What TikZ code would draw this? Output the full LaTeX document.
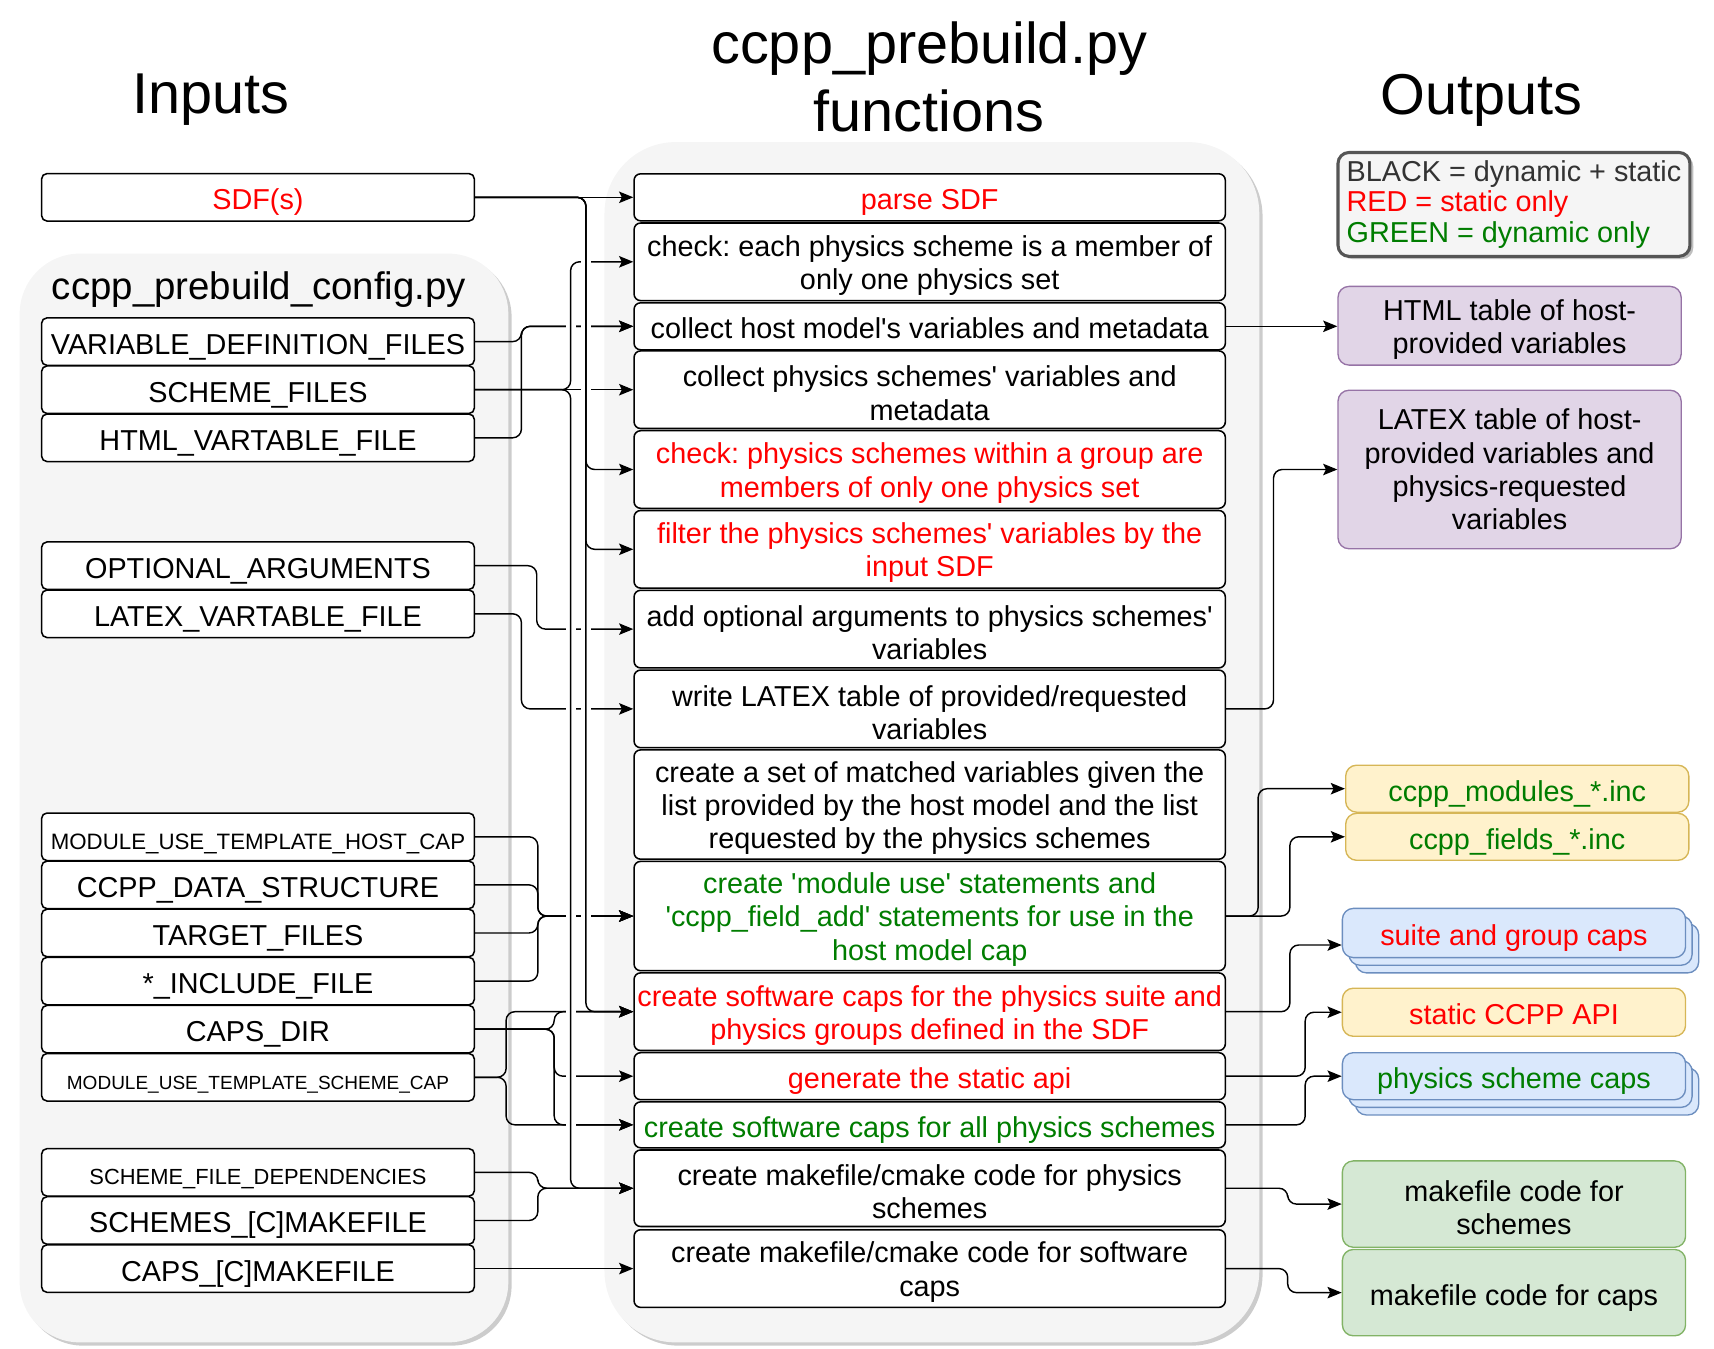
\documentclass[tikz,border=0pt]{standalone}
\usepackage{fontspec}
\setmainfont{Liberation Sans}
\usetikzlibrary{arrows.meta,calc}
\definecolor{sred}{RGB}{255,0,0}
\definecolor{dgreen}{RGB}{0,125,0}
\definecolor{panel}{HTML}{F5F5F5}
\definecolor{purfill}{HTML}{E1D5E7}
\definecolor{purline}{HTML}{9673A6}
\definecolor{yelfill}{HTML}{FFF2CC}
\definecolor{yelline}{HTML}{D6B656}
\definecolor{blufill}{HTML}{DAE8FC}
\definecolor{bluline}{HTML}{6C8EBF}
\definecolor{grnfill}{HTML}{D5E8D4}
\definecolor{grnline}{HTML}{82B366}
\definecolor{legline}{HTML}{555555}
\definecolor{legtext}{HTML}{333333}
\newcommand*{\bodyfont}{\fontsize{15}{17.3}\selectfont}
\newcommand*{\sq}{\textquotesingle}
\newcommand*{\dn}{\rule{0pt}{14.5pt}}
\frenchspacing
\begin{document}
\begin{tikzpicture}[x=0.02cm,y=-0.02cm,
		every node/.style={font=\bodyfont},
		oneline/.style={text height=14.6pt,text depth=1.6pt},
		ibox/.style={draw,rounded corners=0.1cm,fill=white,line width=0.8pt,minimum width=7.92cm,minimum height=0.87cm,inner sep=0pt,oneline},
		fbox/.style={draw,rounded corners=0.12cm,fill=white,line width=0.8pt,minimum width=10.82cm,inner sep=0pt,align=center},
		obox/.style={draw,rounded corners=0.2cm,line width=0.7pt,minimum width=6.28cm,inner sep=0pt,align=center},
		bstack/.style={obox,fill=blufill,draw=bluline},
		conn/.style={line width=0.75pt,rounded corners=0.16cm,-{Stealth[length=0.26cm,width=0.21cm,inset=0.05cm]}},
		jumpgap/.style={draw=white,line width=0.18cm},
		ttl/.style={font=\fontsize{30}{35.5}\selectfont,align=center}]
	\useasboundingbox (0,0) rectangle (1568,1233.2);
	% grey panels with their shadows
	\fill[black!20,rounded corners=1.1cm] (21,235) rectangle (468,1231);
	\fill[panel,rounded corners=1.1cm] (18,232) rectangle (465,1228);
	\fill[black!20,rounded corners=1.3cm] (556,133) rectangle (1155,1231);
	\fill[panel,rounded corners=1.3cm] (553,130) rectangle (1152,1228);
	\fill[black!25,rounded corners=0.2cm] (1227,142) rectangle (1549,237);
	% titles
	\node[ttl] (tin) at (193,91.6) {Inputs};
	\node[ttl] (tfn) at (850,70) {ccpp\_prebuild.py\\functions};
	\node[ttl] (tout) at (1355,91.6) {Outputs};
	\node[font=\fontsize{20}{24}\selectfont] (tcfg) at (237,265) {ccpp\_prebuild\_config.py};
	% inputs
	\node[ibox,text=sred] (sdf) at (236,180.5) {SDF(s)};
	\node[ibox] (vdf) at (236,312.5) {VARIABLE\_DEFINITION\_FILES};
	\node[ibox] (sch) at (236,356.5) {SCHEME\_FILES};
	\node[ibox] (html) at (236,400.5) {HTML\_VARTABLE\_FILE};
	\node[ibox] (opt) at (236,517.5) {OPTIONAL\_ARGUMENTS};
	\node[ibox] (ltx) at (236,561.5) {LATEX\_VARTABLE\_FILE};
	\node[ibox,font=\fontsize{11.6}{14}\selectfont] (host) at (236,765.5) {MODULE\_USE\_TEMPLATE\_HOST\_CAP};
	\node[ibox] (cds) at (236,809.5) {CCPP\_DATA\_STRUCTURE};
	\node[ibox] (tgt) at (236,853.5) {TARGET\_FILES};
	\node[ibox] (inc) at (236,897.5) {*\_INCLUDE\_FILE};
	\node[ibox] (caps) at (236,941.5) {CAPS\_DIR};
	\node[ibox,font=\fontsize{9.9}{12}\selectfont] (mut) at (236,985.5) {MODULE\_USE\_TEMPLATE\_SCHEME\_CAP};
	\node[ibox,font=\fontsize{11.4}{14}\selectfont] (sfd) at (236,1072.5) {SCHEME\_FILE\_DEPENDENCIES};
	\node[ibox] (smf) at (236,1116.5) {SCHEMES\_[C]MAKEFILE};
	\node[ibox] (cmf) at (236,1160.5) {CAPS\_[C]MAKEFILE};
	% functions
	\node[fbox,oneline,text=sred,minimum height=0.86cm] (f1) at (850.5,180.5) {parse SDF};
	\node[fbox,minimum height=1.42cm] (f2) at (850.5,239.5) {\dn check: each physics scheme is a member of\\only one physics set};
	\node[fbox,oneline,minimum height=0.86cm] (f3) at (850.5,298.5) {collect host model\sq s variables and metadata};
	\node[fbox,minimum height=1.42cm] (f4) at (850.5,356.5) {\dn collect physics schemes\sq\ variables and\\metadata};
	\node[fbox,text=sred,minimum height=1.42cm] (f5) at (850.5,429.5) {\dn check: physics schemes within a group are\\members of only one physics set};
	\node[fbox,text=sred,minimum height=1.42cm] (f6) at (850.5,502.5) {\dn filter the physics schemes\sq\ variables by the\\input SDF};
	\node[fbox,minimum height=1.42cm] (f7) at (850.5,575.5) {\dn add optional arguments to physics schemes\sq\\variables};
	\node[fbox,minimum height=1.42cm] (f8) at (850.5,648.5) {\dn write LATEX table of provided/requested\\variables};
	\node[fbox,minimum height=2cm] (f9) at (850.5,736) {\dn create a set of matched variables given the\\list provided by the host model and the list\\requested by the physics schemes};
	\node[fbox,text=dgreen,minimum height=2cm] (f10) at (850.5,838) {\dn create \sq module use\sq\ statements and\\\sq ccpp\_field\_add\sq\ statements for use in the\\host model cap};
	\node[fbox,text=sred,minimum height=1.42cm] (f11) at (850.5,925.5) {\dn create software caps for the physics suite and\\physics groups defined in the SDF};
	\node[fbox,oneline,text=sred,minimum height=0.86cm] (f12) at (850.5,984.5) {generate the static api};
	\node[fbox,oneline,text=dgreen,minimum height=0.84cm] (f13) at (850.5,1029) {create software caps for all physics schemes};
	\node[fbox,minimum height=1.4cm] (f14) at (850.5,1087) {\dn create makefile/cmake code for physics\\schemes};
	\node[fbox,minimum height=1.42cm] (f15) at (850.5,1160.5) {\dn create makefile/cmake code for software\\caps};
	% outputs
	\node[draw=legline,line width=1.6pt,fill=panel,rounded corners=0.2cm,minimum width=6.44cm,minimum height=1.9cm,inner sep=0pt,align=left,font=\fontsize{15}{15.8}\selectfont,text=legtext] (legend) at (1385,187) {BLACK = dynamic + static\\\textcolor{sred}{RED = static only}\\\textcolor{dgreen}{GREEN = dynamic only}};
	\node[obox,fill=purfill,draw=purline,minimum height=1.44cm] (htmlout) at (1381,298) {\dn HTML table of host-\\provided variables};
	\node[obox,fill=purfill,draw=purline,minimum height=2.9cm] (latexout) at (1381,429.5) {LATEX table of host-\\provided variables and\\physics-requested\\variables};
	\node[obox,oneline,fill=yelfill,draw=yelline,text=dgreen,minimum height=0.86cm] (mods) at (1388,721.5) {ccpp\_modules\_*.inc};
	\node[obox,oneline,fill=yelfill,draw=yelline,text=dgreen,minimum height=0.86cm] (flds) at (1388,765.5) {ccpp\_fields\_*.inc};
	\node[bstack,minimum height=0.9cm] (suite3) at (1397,867.5) {};
	\node[bstack,minimum height=0.9cm] (suite2) at (1391,860.5) {};
	\node[bstack,oneline,text=sred,minimum height=0.9cm] (suite) at (1385,853.5) {suite and group caps};
	\node[obox,oneline,fill=yelfill,draw=yelline,text=sred,minimum height=0.88cm] (static) at (1385,926) {static CCPP API};
	\node[bstack,minimum height=0.86cm] (pcaps3) at (1397,998.5) {};
	\node[bstack,minimum height=0.86cm] (pcaps2) at (1391,991.5) {};
	\node[bstack,oneline,text=dgreen,minimum height=0.86cm] (pcaps) at (1385,984.5) {physics scheme caps};
	\node[obox,fill=grnfill,draw=grnline,minimum height=1.58cm] (mksch) at (1385,1101.5) {\dn makefile code for\\schemes};
	\node[obox,oneline,fill=grnfill,draw=grnline,minimum height=1.58cm] (mkcap) at (1385,1182.5) {makefile code for caps};
	% where the lines turn
	\coordinate (tD) at (536,0);
	\coordinate (tS) at (522,0);
	\coordinate (jH) at (477,0);
	\coordinate (jO) at (491,0);
	\coordinate (jB) at (492,0);
	\coordinate (tC) at (507,0);
	\coordinate (tM) at (463,0);
	\coordinate (rL) at (1165,0);
	\coordinate (rM) at (1151,0);
	\coordinate (rF) at (1180,0);
	\coordinate (rA) at (1194,0);
	\coordinate (rK) at (1178,0);
	\coordinate (suitein) at ($(suite.west)+(0,11)$);
	% inputs -> functions
	\draw[conn] (sdf.east) -- (f1.west);
	\draw[conn] (sch.east) -- (f4.west);
	\path[jumpgap] (jH |- vdf.east) -- (jH |- html.east);
	\draw[conn] (vdf.east) -- (jH |- vdf.east) -- (jH |- f3.west) -- (f3.west);
	\draw[conn] (html.east) -- (jH |- html.east) -- (jH |- f3.west) -- (f3.west);
	\draw[conn] (opt.east) -- (jO |- opt.east) -- (jO |- f7.west) -- (f7.west);
	\draw[conn] (ltx.east) -- (jH |- ltx.east) -- (jH |- f8.west) -- (f8.west);
	\foreach \n in {host,cds,tgt,inc}
		\draw[conn] (\n.east) -- (jB |- \n.east) -- (jB |- f10.west) -- (f10.west);
	\foreach \f in {f11,f12,f13}
		\draw[conn] (caps.east) -- (tC |- caps.east) -- (tC |- \f.west) -- (\f.west);
	\foreach \f in {f11,f13}
		\draw[conn] (mut.east) -- (tM |- mut.east) -- (tM |- \f.west) -- (\f.west);
	\foreach \n in {sfd,smf}
		\draw[conn] (\n.east) -- (jB |- \n.east) -- (jB |- f14.west) -- (f14.west);
	\draw[conn] (cmf.east) -- (f15.west);
	% SCHEME_FILES and SDF(s) trunks jump over the rest
	\path[jumpgap] ($(tS |- f2.west)+(0,14)$) -- ($(tS |- sch.east)+(0,-9)$);
	\path[jumpgap] ($(tS |- sch.east)+(0,9)$) -- ($(tS |- f14.west)+(0,-14)$);
	\foreach \f in {f2,f14}
		\draw[conn] (sch.east) -- (tS |- sch.east) -- (tS |- \f.west) -- (\f.west);
	\path[jumpgap] ($(tD |- sdf.east)+(0,14)$) -- ($(tD |- f11.west)+(0,-14)$);
	\foreach \f in {f5,f6,f11}
		\draw[conn] (sdf.east) -- (tD |- sdf.east) -- (tD |- \f.west) -- (\f.west);
	% functions -> outputs
	\draw[conn] (f3.east) -- (f3.east -| htmlout.west);
	\draw[conn] (f8.east) -- (rL |- f8.east) -- (rL |- latexout.west) -- (latexout.west);
	\draw[conn] (f10.east) -- (rM |- f10.east) -- (rM |- mods.west) -- (mods.west);
	\draw[conn] (f10.east) -- (rF |- f10.east) -- (rF |- flds.west) -- (flds.west);
	\draw[conn] (f11.east) -- (rF |- f11.east) -- (rF |- suitein) -- (suitein);
	\draw[conn] (f12.east) -- (rA |- f12.east) -- (rA |- static.west) -- (static.west);
	\draw[conn] (f13.east) -- (rA |- f13.east) -- (rA |- pcaps.west) -- (pcaps.west);
	\draw[conn] (f14.east) -- (rK |- f14.east) -- (rK |- mksch.west) -- (mksch.west);
	\draw[conn] (f15.east) -- (rK |- f15.east) -- (rK |- mkcap.west) -- (mkcap.west);
\end{tikzpicture}
\end{document}
